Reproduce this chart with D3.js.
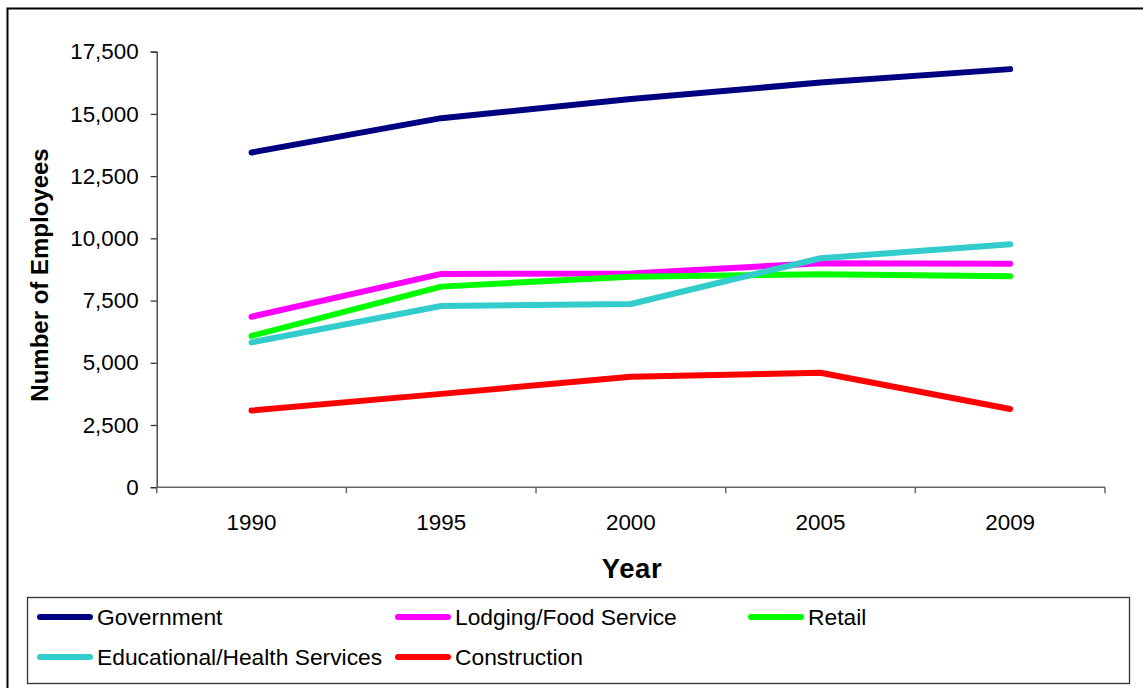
<!DOCTYPE html>
<html>
<head>
<meta charset="utf-8">
<script src="https://cdn.jsdelivr.net/npm/d3@7"></script>
<style>
  body { margin: 0; background: #fff; }
  svg { display: block; font-family: "Liberation Sans", Arial, sans-serif; }
</style>
</head>
<body>
<svg id="chart" width="1143" height="688"></svg>
<script>
// Employees by industry, 1990-2009
const years = ["1990", "1995", "2000", "2005", "2009"];
const yTicks = [0, 2500, 5000, 7500, 10000, 12500, 15000, 17500];

const government   = [13450, 14830, 15600, 16260, 16800];
const lodgingFood  = [6850, 8570, 8590, 9000, 8980];
const retail       = [6080, 8060, 8460, 8560, 8480];
const eduHealth    = [5820, 7280, 7360, 9200, 9760];
const construction = [3080, 3750, 4440, 4600, 3140];

const seriesNames  = ["Government", "Lodging/Food Service", "Retail", "Educational/Health Services", "Construction"];
const seriesColors = ["#000080", "#FF00FF", "#00FF00", "#33CCCC", "#FF0000"];

const series = [government, lodgingFood, retail, eduHealth, construction].map((values, i) => ({
  name: seriesNames[i],
  color: seriesColors[i],
  values
}));

const svg = d3.select("#chart");
const plot = { left: 156.7, top: 51.7, right: 1105, bottom: 487.2 };

// outer frame (runs off the right/bottom edge like the source)
svg.append("rect")
  .attr("x", 7.5).attr("y", 8.5)
  .attr("width", 1150).attr("height", 700)
  .attr("fill", "none").attr("stroke", "#000").attr("stroke-width", 2);

const x = d3.scaleBand().domain(years).range([plot.left, plot.right]);
const y = d3.scaleLinear().domain([0, 17500]).range([plot.bottom, plot.top]);

// y axis
const yAxis = svg.append("g")
  .attr("transform", `translate(${plot.left},0)`)
  .call(d3.axisLeft(y).tickValues(yTicks).tickFormat(d3.format(",")).tickSize(6).tickPadding(12));
yAxis.select(".domain").attr("stroke", "#333").attr("stroke-width", 1.3);
yAxis.selectAll(".tick line").attr("stroke", "#333").attr("stroke-width", 1.3);
yAxis.selectAll("text").attr("font-size", "22.4px").attr("fill", "#000")
  .attr("font-family", "Liberation Sans, Arial, sans-serif");

// x axis: ticks on the band edges, labels in the band centres
const xAxis = svg.append("g").attr("transform", `translate(0,${plot.bottom})`);
xAxis.append("line")
  .attr("x1", plot.left).attr("x2", plot.right)
  .attr("stroke", "#666").attr("stroke-width", 1.5);
const edges = years.map(d => x(d)).concat([plot.right]);
xAxis.selectAll("line.tk").data(edges).join("line")
  .attr("class", "tk")
  .attr("x1", d => d).attr("x2", d => d)
  .attr("y1", 0).attr("y2", 6)
  .attr("stroke", "#666").attr("stroke-width", 1.5);
xAxis.selectAll("text").data(years).join("text")
  .attr("x", d => x(d) + x.bandwidth() / 2)
  .attr("y", 43)
  .attr("text-anchor", "middle")
  .attr("font-size", "22.4px")
  .text(d => d);

// axis titles
svg.append("text")
  .attr("x", 632).attr("y", 578)
  .attr("text-anchor", "middle")
  .attr("font-size", "27.5px").attr("font-weight", "bold")
  .attr("letter-spacing", "0.6px")
  .text("Year");

svg.append("text")
  .attr("transform", "translate(40,275) rotate(-90)")
  .attr("text-anchor", "middle")
  .attr("dy", "0.35em")
  .attr("font-size", "24px").attr("font-weight", "bold")
  .text("Number of Employees");

// lines
const line = d3.line()
  .x((d, i) => x(years[i]) + x.bandwidth() / 2)
  .y(d => y(d));

svg.append("g").selectAll("path").data(series).join("path")
  .attr("d", d => line(d.values))
  .attr("fill", "none")
  .attr("stroke", d => d.color)
  .attr("stroke-width", 6)
  .attr("stroke-linecap", "round")
  .attr("stroke-linejoin", "round");

// legend
const legend = svg.append("g");
legend.append("rect")
  .attr("x", 27.5).attr("y", 597.5)
  .attr("width", 1102).attr("height", 86)
  .attr("fill", "#fff").attr("stroke", "#333").attr("stroke-width", 1.3);

const colX = [37, 395, 748];
const rowY = [617, 657];
const items = legend.selectAll("g.item").data(series).join("g")
  .attr("class", "item")
  .attr("transform", (d, i) => `translate(${colX[i % 3]},${rowY[Math.floor(i / 3)]})`);
items.append("line")
  .attr("x1", 3).attr("x2", 53)
  .attr("stroke", d => d.color)
  .attr("stroke-width", 6)
  .attr("stroke-linecap", "round");
items.append("text")
  .attr("x", 60).attr("y", 8)
  .attr("font-size", "22.8px")
  .text(d => d.name);
</script>
</body>
</html>
